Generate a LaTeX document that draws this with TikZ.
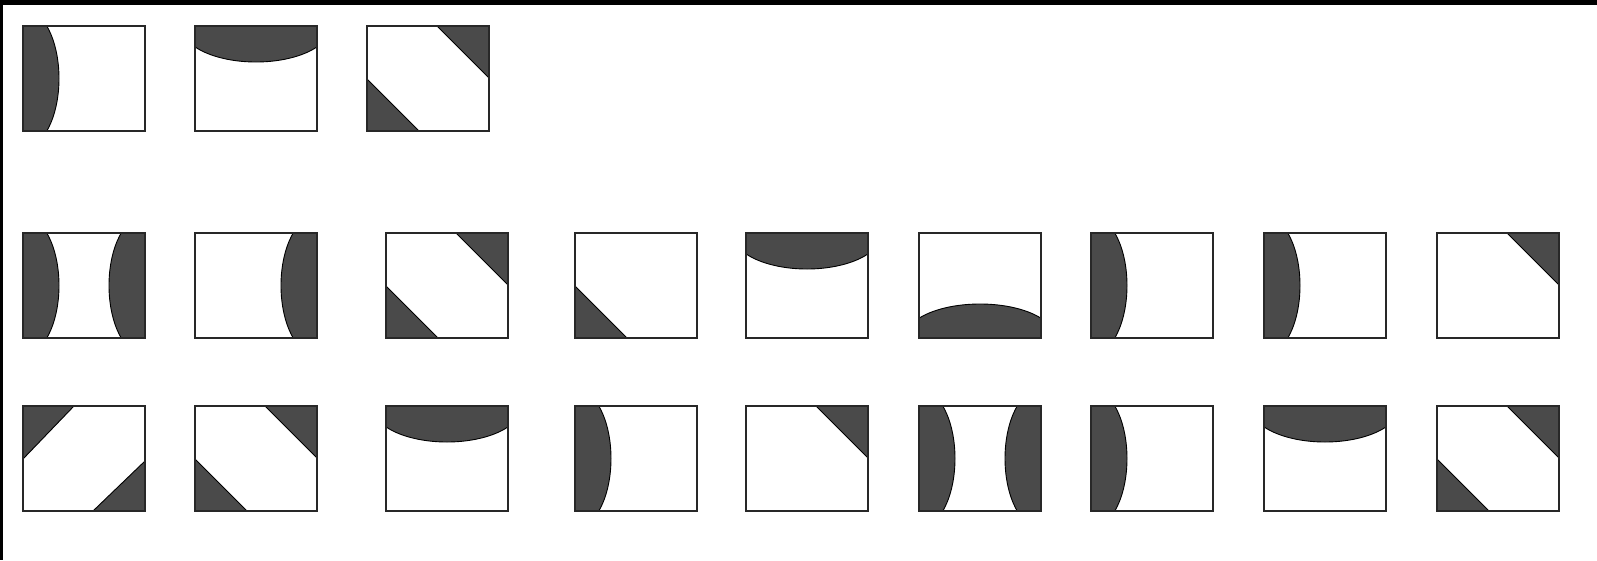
\documentclass[tikz,border=0pt]{standalone}
\definecolor{shade}{RGB}{74,74,74}
\definecolor{edge}{RGB}{40,40,40}
\tikzset{
  boxline/.style={draw=edge, line width=1.6pt},
  shadefill/.style={fill=shade, draw=black, line width=0.9pt},
  pics/lensL/.style={code={\begin{scope}\clip (0,0) rectangle (122,105);
      \fill[shadefill] (0,52.5) ellipse [x radius=36, y radius=70];\end{scope}
      \draw[boxline] (0,0) rectangle (122,105);}},
  pics/lensR/.style={code={\begin{scope}\clip (0,0) rectangle (122,105);
      \fill[shadefill] (122,52.5) ellipse [x radius=36, y radius=70];\end{scope}
      \draw[boxline] (0,0) rectangle (122,105);}},
  pics/lensLR/.style={code={\begin{scope}\clip (0,0) rectangle (122,105);
      \fill[shadefill] (0,52.5) ellipse [x radius=36, y radius=70];
      \fill[shadefill] (122,52.5) ellipse [x radius=36, y radius=70];\end{scope}
      \draw[boxline] (0,0) rectangle (122,105);}},
  pics/lensT/.style={code={\begin{scope}\clip (0,0) rectangle (122,105);
      \fill[shadefill] (61,0) ellipse [x radius=75, y radius=36];\end{scope}
      \draw[boxline] (0,0) rectangle (122,105);}},
  pics/lensB/.style={code={\begin{scope}\clip (0,0) rectangle (122,105);
      \fill[shadefill] (61,105) ellipse [x radius=75, y radius=34];\end{scope}
      \draw[boxline] (0,0) rectangle (122,105);}},
  pics/triTR/.style={code={
      \fill[shadefill] (70,0) -- (122,0) -- (122,52) -- cycle;
      \draw[boxline] (0,0) rectangle (122,105);}},
  pics/triBL/.style={code={
      \fill[shadefill] (0,53) -- (0,105) -- (52,105) -- cycle;
      \draw[boxline] (0,0) rectangle (122,105);}},
  pics/diagD/.style={code={
      \fill[shadefill] (70,0) -- (122,0) -- (122,52) -- cycle;
      \fill[shadefill] (0,53) -- (0,105) -- (52,105) -- cycle;
      \draw[boxline] (0,0) rectangle (122,105);}},
  pics/diagA/.style={code={
      \fill[shadefill] (0,0) -- (51,0) -- (0,53) -- cycle;
      \fill[shadefill] (122,55) -- (122,105) -- (70,105) -- cycle;
      \draw[boxline] (0,0) rectangle (122,105);}},
}
\begin{document}
\begin{tikzpicture}[x=1pt,y=-1pt]
  \useasboundingbox (0,0) rectangle (1597,560);
  \fill[white] (0,0) rectangle (1597,560);
  \fill[black] (0,0) rectangle (1597,5);
  \fill[black] (0,0) rectangle (3,560);
  % row 1
  \foreach \xx/\kind in {23/lensL, 195/lensT, 367/diagD}
    \pic at (\xx,26) {\kind};
  % row 2
  \foreach \xx/\kind in {23/lensLR, 195/lensR, 386/diagD, 575/triBL, 746/lensT,
                         919/lensB, 1091/lensL, 1264/lensL, 1437/triTR}
    \pic at (\xx,233) {\kind};
  % row 3
  \foreach \xx/\kind in {23/diagA, 195/diagD, 386/lensT, 575/lensL, 746/triTR,
                         919/lensLR, 1091/lensL, 1264/lensT, 1437/diagD}
    \pic at (\xx,406) {\kind};
\end{tikzpicture}
\end{document}
